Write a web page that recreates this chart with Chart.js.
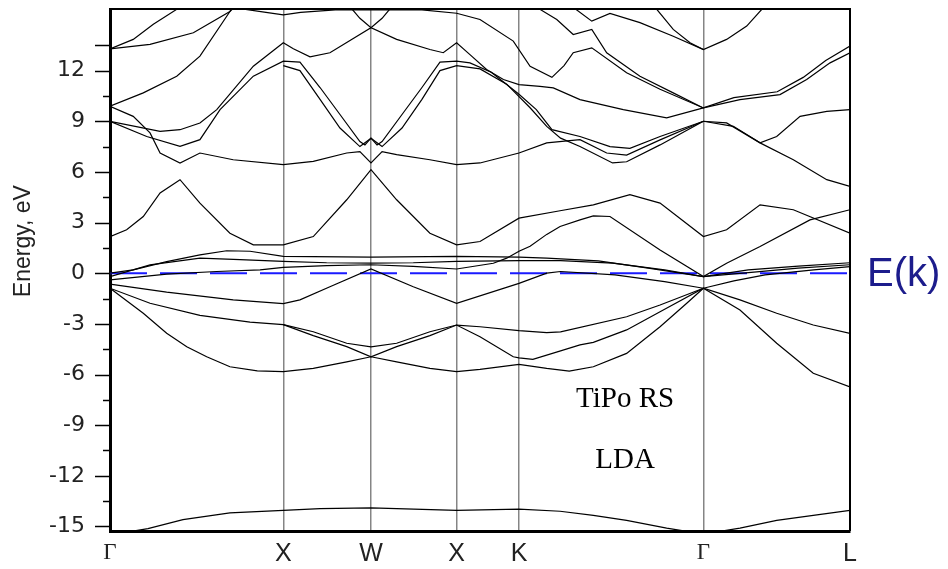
<!DOCTYPE html>
<html>
<head>
<meta charset="utf-8">
<script src="https://cdn.jsdelivr.net/npm/chart.js@4.4.1/dist/chart.umd.min.js"></script>
<style>
  body { margin: 0; background: #fff; }
</style>
</head>
<body>
<canvas id="myChart" width="948" height="569"></canvas>
<script>
// high-symmetry points along the k path (units of 2pi/a, Gamma-X = 1)
const kPoints = [0, 1, 1.506, 2, 2.36, 3.424, 4.27];
const kLabels = ['Γ', 'X', 'W', 'X', 'K', 'Γ', 'L'];

const energyTicks = [-15, -13.5, -12, -10.5, -9, -7.5, -6, -4.5, -3, -1.5, 0,
    1.5, 3, 4.5, 6, 7.5, 9, 10.5, 12, 13.5];
const labelledTicks = [-15, -12, -9, -6, -3, 0, 3, 6, 9, 12];
const longTicks = [-15, -12, -9, -6, -3, 0, 3, 6, 9, 12, 13.5];

// bands as [k, E(eV)]
const semicore = [[0,-15.5],[0.219,-15.13],[0.421,-14.6],[0.692,-14.2],[1,-14.05],[1.212,-13.95],[1.506,-13.9],[2,-14.05],[2.36,-13.97],[2.597,-14.1],[2.789,-14.35],[2.981,-14.64],[3.212,-15.1],[3.424,-15.45],[3.635,-15.1],[3.847,-14.64],[4.058,-14.35],[4.27,-14.05]];

const val1 = [[0,-0.89],[0.192,-2.37],[0.327,-3.56],[0.443,-4.36],[0.558,-4.95],[0.692,-5.54],[0.85,-5.78],[1,-5.83],[1.173,-5.64],[1.366,-5.25],[1.506,-4.95],[1.654,-5.25],[1.846,-5.64],[2,-5.83],[2.135,-5.7],[2.36,-5.4],[2.52,-5.64],[2.65,-5.8],[2.789,-5.54],[2.981,-4.75],[3.174,-3.17],[3.328,-1.78],[3.424,-0.89],[3.635,-2.18],[3.847,-4.15],[4.058,-5.93],[4.27,-6.73]];
const val2 = [[0,-0.89],[0.231,-1.78],[0.519,-2.5],[0.808,-2.9],[1,-3.05],[1.173,-3.7],[1.366,-4.35],[1.506,-4.95],[1.654,-4.35],[1.846,-3.7],[2,-3.07],[2.135,-3.76],[2.327,-4.95],[2.36,-5.01],[2.44,-5.1],[2.6,-4.6],[2.712,-4.25],[2.789,-4.1],[2.981,-3.36],[3.174,-2.28],[3.424,-0.89],[3.635,-1.58],[3.847,-2.37],[4.058,-3.07],[4.27,-3.56]];
const val3 = [[1,-3.05],[1.173,-3.47],[1.366,-4.15],[1.506,-4.36],[1.654,-4.15],[1.846,-3.47],[2,-3.07],[2.135,-3.17],[2.36,-3.4],[2.52,-3.52],[2.6,-3.47],[2.981,-2.58],[3.174,-1.88],[3.424,-0.89]];
const val4 = [[0,-0.65],[0.327,-1.12],[0.711,-1.58],[1,-1.8],[1.096,-1.58],[1.269,-0.8],[1.506,0.25],[1.75,-0.8],[2,-1.78],[2.36,-0.6],[2.52,0.0],[2.6,0.1],[2.914,-0.1],[3.2,-0.5],[3.424,-0.89],[3.6,-0.45],[3.78,-0.1],[4.06,0.2],[4.27,0.39]];
const val5 = [[0,-0.4],[0.327,-0.06],[0.616,0.1],[0.866,0.2],[1,0.35],[1.25,0.45],[1.506,0.5],[1.75,0.4],[2,0.25],[2.212,0.59],[2.289,0.89],[2.36,1.3],[2.424,1.6],[2.52,2.3],[2.597,2.77],[2.712,3.16],[2.789,3.4],[2.885,3.36],[3.174,1.38],[3.424,-0.2],[3.558,0.59],[3.751,1.58],[4.039,3.16],[4.27,3.76]];
const val6 = [[0,-0.2],[0.231,0.49],[0.519,0.89],[0.75,0.8],[1,0.7],[1.25,0.62],[1.506,0.6],[1.75,0.62],[2,0.7],[2.36,0.75],[2.6,0.75],[2.9,0.6],[3.2,0.2],[3.424,-0.2],[3.7,0.05],[3.97,0.3],[4.27,0.5]];
const val7 = [[0,0.0],[0.134,0.2],[0.327,0.69],[0.519,1.09],[0.673,1.33],[0.808,1.3],[1,1.0],[1.506,0.95],[2,1.0],[2.36,0.95],[2.52,0.89],[2.818,0.73],[3.106,0.3],[3.424,-0.2],[3.683,0.2],[3.972,0.42],[4.27,0.62]];

const cond1 = [[0,2.17],[0.096,2.57],[0.192,3.36],[0.289,4.75],[0.404,5.54],[0.519,4.15],[0.692,2.37],[0.827,1.68],[1,1.68],[1.173,2.17],[1.366,4.35],[1.506,6.13],[1.654,4.35],[1.846,2.37],[2,1.68],[2.135,1.88],[2.36,3.26],[2.597,3.7],[2.789,4.05],[3.0,4.65],[3.174,4.15],[3.424,2.17],[3.558,2.57],[3.751,4.05],[3.943,3.76],[4.27,2.37]];
const cond2 = [[0,9.89],[0.134,9.29],[0.231,8.31],[0.289,7.12],[0.404,6.53],[0.519,7.12],[0.711,6.72],[1,6.43],[1.173,6.62],[1.366,7.12],[1.442,7.2],[1.506,6.53],[1.57,7.2],[1.654,7.02],[1.846,6.72],[2,6.43],[2.135,6.53],[2.36,7.12],[2.52,7.72],[2.712,7.91],[2.866,7.12],[2.981,7.0],[3.174,7.9],[3.424,9.0],[3.558,8.9],[3.751,7.72],[3.943,6.72],[4.136,5.54],[4.27,5.14]];
const cond3 = [[0,9.0],[0.212,8.1],[0.404,7.51],[0.519,7.91],[0.635,9.69],[0.827,11.67],[1,12.56],[1.096,12.5],[1.212,11.0],[1.327,9.4],[1.442,7.8],[1.471,7.6],[1.506,8.0],[1.541,7.6],[1.57,7.8],[1.685,9.4],[1.8,11.0],[1.904,12.5],[2,12.56],[2.077,12.46],[2.2,11.9],[2.36,10.6],[2.46,9.69],[2.55,8.5],[2.712,8.1],[2.885,7.5],[3.0,7.4],[3.174,8.1],[3.424,9.0],[3.597,8.7],[3.751,7.72],[3.847,8.1],[3.982,9.29],[4.136,9.59],[4.27,9.69]];
const cond4 = [[1,12.3],[1.096,12.0],[1.212,10.3],[1.327,8.6],[1.442,7.5],[1.506,8.0],[1.57,7.5],[1.685,8.6],[1.8,10.3],[1.904,12.0],[2,12.3],[2.135,12.1],[2.289,11.2],[2.424,9.8],[2.52,8.7],[2.6,8.0],[2.712,7.51],[2.9,6.53],[2.981,6.6],[3.174,7.6],[3.424,9.0]];
const cond5 = [[0,9.0],[0.289,8.4],[0.404,8.5],[0.519,8.9],[0.616,9.69],[0.827,12.26],[1,13.65],[1.058,13.3],[1.154,12.82],[1.269,13.06],[1.506,14.54],[1.654,13.85],[1.846,13.25],[1.923,13.06],[2,13.65],[2.077,12.95],[2.173,12.07],[2.27,11.47],[2.36,11.17],[2.481,11.07],[2.558,10.98],[2.712,10.28],[2.962,9.69],[3.212,9.2],[3.424,9.79],[3.635,10.28],[3.866,10.58],[4.02,11.47],[4.155,12.46],[4.27,13.06]];
const cond6 = [[0,9.89],[0.192,10.68],[0.385,11.67],[0.519,12.86],[0.692,15.5],[0.75,16.5]];
const cond7 = [[0,13.29],[0.134,13.85],[0.25,14.74],[0.385,15.63],[0.45,16.2]];
const cond8 = [[0,13.29],[0.231,13.55],[0.481,14.24],[0.692,15.5],[0.75,16.1]];
const cond9 = [[1.35,16.2],[1.442,15.1],[1.506,14.54],[1.57,15.1],[1.66,16.2]];
const cond10 = [[0.7,15.75],[0.9,15.45],[1,15.3],[1.1,15.45],[1.3,15.6],[1.5,15.6],[1.8,15.6],[2,15.4],[2.135,15.03],[2.327,13.75],[2.424,12.26],[2.55,11.6],[2.62,12.3],[2.673,13.06],[2.78,13.35],[2.981,11.87],[3.174,10.9],[3.424,9.79],[3.6,10.4],[3.85,10.75],[4.0,11.6],[4.13,12.6],[4.27,13.45]];
const cond11 = [[2.45,16],[2.481,15.63],[2.578,15.03],[2.673,14.14],[2.78,14.44],[2.866,13.06],[3.058,11.67],[3.25,10.68],[3.424,9.79]];
const cond12 = [[2.64,16],[2.78,14.93],[2.885,15.39],[3.058,14.84],[3.25,14.04],[3.424,13.25],[3.558,13.85],[3.674,14.64],[3.761,15.63],[3.8,16.2]];
const cond13 = [[3.12,16.0],[3.155,15.63],[3.25,14.44],[3.347,13.65],[3.424,13.25]];

const bands = [semicore, val1, val2, val3, val4, val5, val6, val7,
    cond1, cond2, cond3, cond4, cond5, cond6, cond7, cond8, cond9, cond10, cond11, cond12, cond13];

const datasets = bands.map(b => ({
    data: b.map(p => ({x: p[0], y: p[1]})),
    borderColor: '#000',
    borderWidth: 1.2,
    pointRadius: 0,
    tension: 0,
    fill: false
}));

// Fermi level, drawn underneath the bands
datasets.push({
    data: [{x: kPoints[0], y: 0}, {x: kPoints[kPoints.length - 1], y: 0}],
    borderColor: '#1a1aff',
    borderWidth: 2,
    borderDash: [37, 13],
    pointRadius: 0,
    fill: false
});

// ticks on the energy axis, text labels and the top/right frame
const extras = {
    id: 'extras',
    afterDraw(chart) {
        const {ctx, chartArea, scales} = chart;
        const y = scales.y, x = scales.x;
        ctx.save();
        ctx.strokeStyle = '#000';
        ctx.lineWidth = 1.5;
        energyTicks.forEach(v => {
            const py = Math.round(y.getPixelForValue(v)) + 0.5;
            const len = longTicks.includes(v) ? 15 : 7;
            ctx.beginPath();
            ctx.moveTo(chartArea.left - len, py);
            ctx.lineTo(chartArea.left, py);
            ctx.stroke();
        });
        // top and right edges
        ctx.beginPath();
        ctx.moveTo(chartArea.left, chartArea.top);
        ctx.lineTo(chartArea.right, chartArea.top);
        ctx.lineTo(chartArea.right, chartArea.bottom);
        ctx.lineWidth = 2;
        ctx.stroke();

        // axis title
        ctx.save();
        ctx.translate(24, y.getPixelForValue(1.9));
        ctx.rotate(-Math.PI / 2);
        ctx.fillStyle = '#222';
        ctx.font = '23px "Liberation Sans Narrow", "Liberation Sans", Arial, sans-serif';
        ctx.textAlign = 'center';
        ctx.textBaseline = 'middle';
        ctx.fillText('Energy, eV', 0, 0);
        ctx.restore();

        ctx.fillStyle = '#1c1c8c';
        ctx.font = '40px "Liberation Sans", Arial, sans-serif';
        ctx.textBaseline = 'middle';
        ctx.textAlign = 'left';
        ctx.fillText('E(k)', chartArea.right + 17, y.getPixelForValue(0) + 2);

        ctx.fillStyle = '#000';
        ctx.font = '29px "Liberation Serif", "Times New Roman", serif';
        ctx.textAlign = 'center';
        ctx.textBaseline = 'alphabetic';
        ctx.fillText('TiPo RS', x.getPixelForValue(2.972), y.getPixelForValue(-7.93));
        ctx.fillText('LDA', x.getPixelForValue(2.972), y.getPixelForValue(-11.55));
        ctx.restore();
    }
};

const config = {
    type: 'line',
    data: {datasets: datasets},
    options: {
        responsive: false,
        animation: false,
        devicePixelRatio: 1,
        layout: {
            padding: {top: 9, right: 98, left: 0, bottom: 0}
        },
        plugins: {
            legend: {display: false},
            tooltip: {enabled: false}
        },
        scales: {
            x: {
                type: 'linear',
                min: 0,
                max: 4.27,
                afterBuildTicks: s => { s.ticks = kPoints.map(v => ({value: v})); },
                afterFit: s => { s.height = 38; s.paddingLeft = 0; s.paddingRight = 0; },
                ticks: {
                    autoSkip: false,
                    maxRotation: 0,
                    padding: 8,
                    color: '#222',
                    callback: (v, i) => kLabels[i],
                    font: c => (kLabels[c.index] === 'Γ')
                        ? {family: '"Liberation Serif", serif', size: 23}
                        : {family: '"Liberation Sans", Arial, sans-serif', size: 25}
                },
                grid: {
                    drawOnChartArea: true,
                    drawTicks: false,
                    lineWidth: 1.5,
                    color: c => (c.index === 0 || c.index === kPoints.length - 1) ? 'rgba(0,0,0,0)' : '#858585'
                },
                border: {display: true, color: '#000', width: 3}
            },
            y: {
                type: 'linear',
                min: -15.27,
                max: 15.65,
                afterBuildTicks: s => { s.ticks = energyTicks.map(v => ({value: v})); },
                afterFit: s => { s.width = 110; s.paddingTop = 0; s.paddingBottom = 0; },
                ticks: {
                    padding: 25,
                    color: '#222',
                    font: {family: '"DejaVu Sans", sans-serif', size: 22},
                    callback: v => labelledTicks.includes(v) ? String(v) : ''
                },
                grid: {drawOnChartArea: false, drawTicks: false},
                border: {display: true, color: '#000', width: 3}
            }
        }
    },
    plugins: [extras]
};

const context = document.getElementById('myChart').getContext('2d');
const myChart = new Chart(context, config);
</script>
</body>
</html>
